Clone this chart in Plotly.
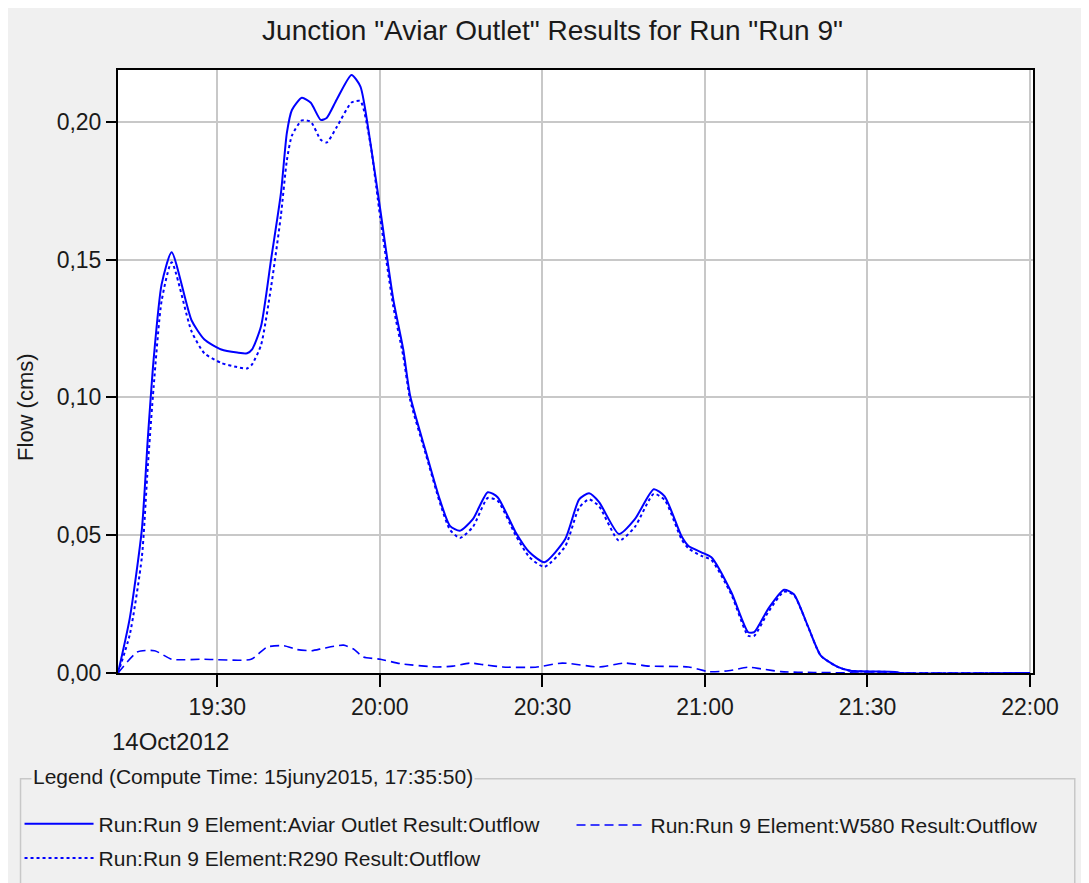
import plotly.graph_objects as go

DAY = "2012-10-14 "

# Aviar Outlet (solid) and R290 (dotted) share the same time stamps
times_main = ["19:11:40", "19:13:51", "19:16:04", "19:17:10", "19:18:15", "19:19:43", "19:21:34",
              "19:25:14", "19:27:37", "19:30:44", "19:33:40", "19:35:30", "19:36:25", "19:38:04",
              "19:39:55", "19:41:44", "19:42:50", "19:43:46", "19:45:36", "19:47:15", "19:49:05",
              "19:50:11", "19:52:01", "19:54:46", "19:56:25", "19:58:15", "20:00:05", "20:02:29",
              "20:04:19", "20:05:36", "20:08:32", "20:11:03", "20:12:56", "20:14:46", "20:17:10",
              "20:19:55", "20:21:44", "20:25:03", "20:27:37", "20:30:22", "20:34:13", "20:36:47",
              "20:38:37", "20:40:28", "20:44:08", "20:47:04", "20:50:33", "20:52:34", "20:55:41",
              "20:56:58", "20:59:21", "21:01:11", "21:04:52", "21:07:59", "21:09:05", "21:11:39",
              "21:14:35", "21:16:25", "21:18:59", "21:21:23", "21:24:30", "21:26:53", "21:35:08",
              "21:36:00", "22:00:00"]

aviar_outlet = [0.0, 0.020, 0.052, 0.085, 0.114, 0.141, 0.1527,
                0.128, 0.121, 0.1174, 0.1163, 0.116, 0.1174, 0.1258,
                0.150, 0.174, 0.196, 0.2043, 0.2087, 0.2069, 0.2007,
                0.2014, 0.208, 0.217, 0.2128, 0.1924, 0.168, 0.1355,
                0.1174, 0.1005, 0.080, 0.063, 0.0534, 0.0516, 0.0558,
                0.0656, 0.0638, 0.0511, 0.0438, 0.0402, 0.0486, 0.063,
                0.0652, 0.062, 0.0504, 0.0558, 0.0667, 0.0641, 0.0496,
                0.0461, 0.0438, 0.042, 0.0293, 0.0148, 0.0148, 0.0232,
                0.0302, 0.0286, 0.0171, 0.0063, 0.0022, 0.0008, 0.0004,
                0.0, 0.0]

r290 = [0.0, 0.014, 0.042, 0.075, 0.104, 0.135, 0.149,
        0.124, 0.116, 0.1125, 0.111, 0.1105, 0.112, 0.119,
        0.140, 0.166, 0.186, 0.195, 0.2005, 0.200, 0.1935,
        0.1925, 0.198, 0.207, 0.2075, 0.192, 0.165, 0.133,
        0.115, 0.099, 0.079, 0.062, 0.052, 0.049, 0.053,
        0.0635, 0.0625, 0.050, 0.042, 0.0385, 0.046, 0.060,
        0.063, 0.0605, 0.048, 0.053, 0.065, 0.0628, 0.0485,
        0.0452, 0.0425, 0.041, 0.0285, 0.0135, 0.0135, 0.022,
        0.0295, 0.0283, 0.017, 0.0063, 0.0022, 0.0008, 0.0003,
        0.0, 0.0]

times_w580 = ["19:11:40", "19:15:19", "19:18:26", "19:21:34", "19:27:37", "19:36:14", "19:39:10",
              "19:42:17", "19:44:41", "19:47:26", "19:49:38", "19:53:18", "19:55:08", "19:56:58",
              "20:00:05", "20:03:46", "20:10:22", "20:13:29", "20:16:37", "20:19:33", "20:22:40",
              "20:28:43", "20:33:40", "20:40:28", "20:45:14", "20:49:38", "20:56:58", "21:00:38",
              "21:04:19", "21:07:59", "21:10:22", "21:14:02", "21:20:05", "21:30:00", "22:00:00"]

w580 = [0.0, 0.0077, 0.0081, 0.005, 0.005, 0.005, 0.0094,
        0.0099, 0.0085, 0.0081, 0.009, 0.0101, 0.0087, 0.0058,
        0.005, 0.0034, 0.0022, 0.0025, 0.0036, 0.0029, 0.0022,
        0.0021, 0.0036, 0.0022, 0.0036, 0.0025, 0.0022, 0.0005,
        0.0008, 0.0021, 0.0015, 0.0005, 0.0002, 0.0, 0.0]

names = ["Run:Run 9 Element:Aviar Outlet Result:Outflow",
         "Run:Run 9 Element:W580 Result:Outflow",
         "Run:Run 9 Element:R290 Result:Outflow"]

y_ticks = [0.0, 0.05, 0.10, 0.15, 0.20]
x_ticks = ["19:30", "20:00", "20:30", "21:00", "21:30", "22:00"]

BLUE = "#0000ff"
FONT = "Liberation Sans, Arial, sans-serif"
TXT = "#1a1a1a"
W, H = 1089, 883
OFF = 8  # page body offset

# screen-pixel helpers for the plot area
PL, PR, PT, PB = 113, 1033, 70, 674
def px(x):
    return (x - PL) / (PR - PL)
def py(y):
    return (PB - y) / (PB - PT)

fig = go.Figure()
fig.add_trace(go.Scatter(x=[DAY + t for t in times_main], y=aviar_outlet, name=names[0],
                         legend="legend", legendgroup="a",
                         mode="lines", line=dict(color=BLUE, width=2, shape="spline", smoothing=0.6)))
fig.add_trace(go.Scatter(x=[DAY + t for t in times_w580], y=w580, name=names[1],
                         legend="legend2", legendgroup="b",
                         mode="lines", line=dict(color=BLUE, width=1.6, dash="9px,5px", shape="spline", smoothing=0.6)))
fig.add_trace(go.Scatter(x=[DAY + t for t in times_main], y=r290, name=names[2],
                         legend="legend", legendgroup="c",
                         mode="lines", line=dict(color=BLUE, width=2, dash="3px,3px", shape="spline", smoothing=0.6)))

leg_common = dict(orientation="v", xanchor="left", bgcolor="rgba(0,0,0,0)",
                  font=dict(size=21, family=FONT, color=TXT), tracegroupgap=4, itemwidth=69)

fig.update_layout(
    width=W, height=H,
    paper_bgcolor="#f0f0f0", plot_bgcolor="white",
    font=dict(family=FONT, size=21, color=TXT),
    margin=dict(l=PL - OFF, r=W - (PR - OFF), t=PT - OFF, b=H - (PB - OFF)),
    title=dict(text='Junction "Aviar Outlet" Results for Run "Run 9"', x=0.5, xanchor="center",
               y=1 - 22 / H, yanchor="middle", font=dict(size=28, family=FONT, color=TXT)),
    separators=",.",
    showlegend=True,
    legend=dict(x=px(14), y=py(880), yanchor="bottom", **leg_common),
    legend2=dict(x=px(569), y=py(806), yanchor="top", **leg_common),
)

fig.update_xaxes(range=[DAY + "19:11:40", DAY + "22:00:33"],
                 tickvals=[DAY + t for t in x_ticks], ticktext=x_ticks,
                 showgrid=True, gridcolor="#c8c8c8", gridwidth=2,
                 showline=True, linecolor="black", linewidth=2, mirror=True,
                 ticks="outside", ticklen=12, tickwidth=2, tickcolor="black",
                 ticklabelstandoff=0, automargin=False,
                 tickfont=dict(size=23), zeroline=False)
fig.update_yaxes(range=[0, 0.2188], tickvals=y_ticks, tickformat=".2f",
                 showgrid=True, gridcolor="#c8c8c8", gridwidth=2,
                 showline=True, linecolor="black", linewidth=2, mirror=True,
                 ticks="outside", ticklen=10, tickwidth=2, tickcolor="black",
                 automargin=False,
                 tickfont=dict(size=23), zeroline=False)

# y-axis title
fig.add_annotation(text="Flow (cms)", xref="paper", yref="paper", x=px(20), y=py(408),
                   xanchor="center", yanchor="middle", textangle=-90, showarrow=False,
                   font=dict(size=22))

# date label below axis
fig.add_annotation(text="14Oct2012", xref="paper", yref="paper", x=px(105), y=py(743),
                   xanchor="left", yanchor="middle", showarrow=False, font=dict(size=24))

# legend group box
fig.add_shape(type="rect", xref="paper", yref="paper",
              x0=px(15), x1=px(1075), y0=py(905), y1=py(780),
              line=dict(color="#c8c8c8", width=1.5), fillcolor="rgba(0,0,0,0)", layer="below")
fig.add_annotation(text="Legend (Compute Time: 15juny2015, 17:35:50)", xref="paper", yref="paper",
                   x=px(26), y=py(778), xanchor="left", yanchor="middle",
                   showarrow=False, bgcolor="#f0f0f0", borderpad=1, font=dict(size=21))

fig.write_html("out.html")
